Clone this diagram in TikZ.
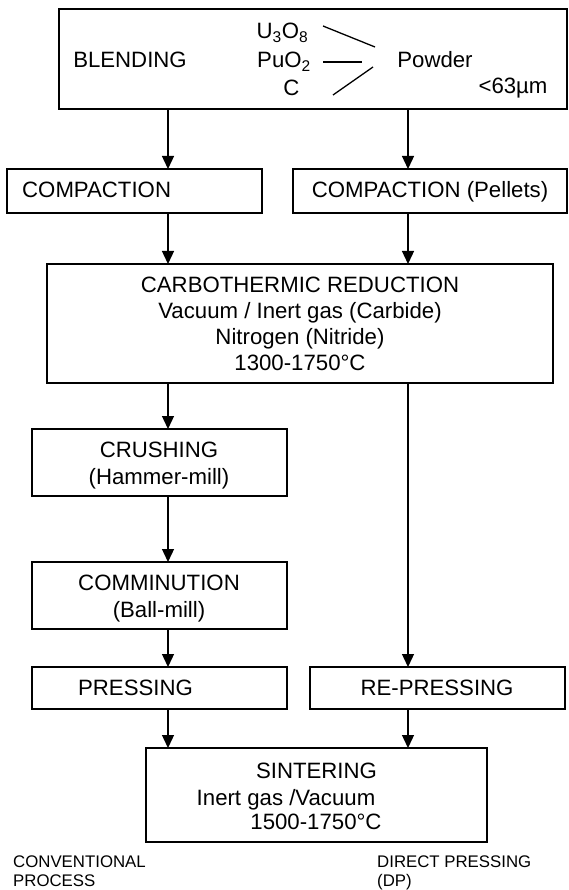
\documentclass[tikz,border=0pt]{standalone}
\usepackage{fontspec}
\setmainfont{Liberation Sans}
\usetikzlibrary{arrows.meta}
\begin{document}
\begin{tikzpicture}[x=1pt,y=-1pt,
  box/.style={draw, line width=1.3pt, inner sep=0pt, outer sep=0pt, rectangle},
  txt/.style={inner sep=0pt, anchor=base, font=\fontsize{22.2}{26}\selectfont},
  txtw/.style={inner sep=0pt, anchor=base west, font=\fontsize{22.2}{26}\selectfont},
  lbl/.style={inner sep=0pt, anchor=base west, font=\fontsize{16.8}{19}\selectfont},
  arr/.style={line width=1.3pt, -{Triangle[length=13pt,width=12pt]}},
  ln/.style={line width=1.3pt}]
\useasboundingbox (0,0) rectangle (569,890);
% column positions
\coordinate (xl) at (168,0);
\coordinate (xr) at (408,0);
% boxes
\node[box, minimum width=508pt, minimum height=100pt] (blend) at (313,59) {};
\node[box, minimum width=255pt, minimum height=44pt] (compL) at (134.5,191) {};
\node[box, minimum width=274pt, minimum height=44pt] (compR) at (430,191) {};
\node[box, minimum width=506pt, minimum height=119pt] (carbo) at (300,323.5) {};
\node[box, minimum width=255pt, minimum height=67pt] (crush) at (159.5,462.5) {};
\node[box, minimum width=255pt, minimum height=67pt] (commin) at (159.5,595.5) {};
\node[box, minimum width=255pt, minimum height=42pt] (press) at (159.5,688) {};
\node[box, minimum width=255pt, minimum height=42pt] (repress) at (437.5,688) {};
\node[box, minimum width=341pt, minimum height=94pt] (sinter) at (316.5,795) {};
% top box texts
\node[txt] (tblend) at (130,67.5) {BLENDING};
\node[txt] (tu) at (282.5,39) {U\textsubscript{3}O\textsubscript{8}};
\node[txt] (tpu) at (284,67.5) {PuO\textsubscript{2}};
\node[txt] (tc) at (291.5,96) {C};
\node[txt] (tpow) at (435,67.5) {Powder};
\node[txt] (tsize) at (513,93.5) {<63µm};
\coordinate (l1a) at (323,26); \coordinate (l1b) at (375,47);
\coordinate (l2a) at (323,62); \coordinate (l2b) at (362,62);
\coordinate (l3a) at (333,95); \coordinate (l3b) at (373,67);
\draw[ln] (l1a) -- (l1b);
\draw[ln] (l2a) -- (l2b);
\draw[ln] (l3a) -- (l3b);
% compaction texts
\node[txtw] (tcompL) at (22,197.7) {COMPACTION};
\node[txt] (tcompR) at (430,197.7) {COMPACTION (Pellets)};
% carbothermic texts
\node[txt] (tc1) at (300,292.5) {CARBOTHERMIC REDUCTION};
\node[txt] (tc2) at (300,318.5) {Vacuum / Inert gas (Carbide)};
\node[txt] (tc3) at (300,344.5) {Nitrogen (Nitride)};
\node[txt] (tc4) at (300,370.5) {1300-1750°C};
% crushing / comminution
\node[txt] (tcr1) at (159,457.7) {CRUSHING};
\node[txt] (tcr2) at (159,484.7) {(Hammer-mill)};
\node[txt] (tcm1) at (159,590.7) {COMMINUTION};
\node[txt] (tcm2) at (159,617.7) {(Ball-mill)};
% pressing
\node[txt] (tpr) at (135.5,695.7) {PRESSING};
\node[txt] (trp) at (437,695.7) {RE-PRESSING};
% sintering
\node[txt] (ts1) at (316.5,778) {SINTERING};
\node[txt] (ts2) at (286,805) {Inert gas /Vacuum};
\node[txt] (ts3) at (316,829.5) {1500-1750°C};
% labels
\node[lbl] (conv1) at (13,867.7) {CONVENTIONAL};
\node[lbl] (conv2) at (13,886) {PROCESS};
\node[lbl] (dp1) at (377,867.7) {DIRECT PRESSING};
\node[lbl] (dp2) at (377,886) {(DP)};
% arrows
\draw[arr] (blend.south -| xl) -- (compL.north -| xl);
\draw[arr] (blend.south -| xr) -- (compR.north -| xr);
\draw[arr] (compL.south -| xl) -- (carbo.north -| xl);
\draw[arr] (compR.south -| xr) -- (carbo.north -| xr);
\draw[arr] (carbo.south -| xl) -- (crush.north -| xl);
\draw[arr] (carbo.south -| xr) -- (repress.north -| xr);
\draw[arr] (crush.south -| xl) -- (commin.north -| xl);
\draw[arr] (commin.south -| xl) -- (press.north -| xl);
\draw[arr] (press.south -| xl) -- (sinter.north -| xl);
\draw[arr] (repress.south -| xr) -- (sinter.north -| xr);
\end{tikzpicture}
\end{document}
